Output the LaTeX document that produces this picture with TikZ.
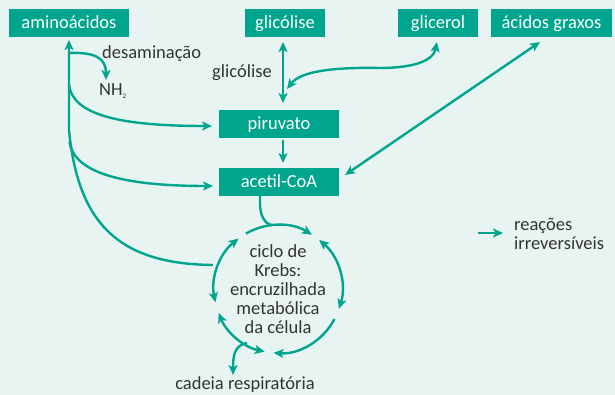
\documentclass[tikz,border=0pt]{standalone}
\usepackage{fontspec}
\setmainfont{Carlito}
\usetikzlibrary{arrows.meta}
\definecolor{bgc}{HTML}{E8F4F2}
\definecolor{gr}{HTML}{00A58E}
\definecolor{txt}{HTML}{333333}
\begin{document}
\begin{tikzpicture}[x=1pt,y=-1pt,
  >={Stealth[length=10pt,width=9pt,inset=2.5pt]},
  box/.style={fill=gr,text=white,inner sep=0pt,minimum height=28pt,
    text height=13pt,text depth=1pt,font=\fontsize{18.5}{20}\selectfont},
  lbl/.style={text=txt,inner sep=0pt,font=\fontsize{18.5}{20}\selectfont},
  con/.style={draw=gr,line width=2.4pt},
 ]
\fill[bgc] (0,0) rectangle (615,395);
\useasboundingbox (0,0) rectangle (615,395);

% boxes
\node[box,minimum width=120pt] (amino) at (69,23) {aminoácidos};
\node[box,minimum width=80pt] (glic) at (285,23) {glicólise};
\node[box,minimum width=80pt] (glicerol) at (438,23) {glicerol};
\node[box,minimum width=121pt] (graxos) at (551.5,23) {ácidos graxos};
\node[box,minimum width=120pt] (piru) at (279,124) {piruvato};
\node[box,minimum width=120pt] (acetil) at (279,182) {acetil-CoA};

% labels
\node[lbl,anchor=base west] (desam) at (102,59) {desaminação};
\node[lbl,anchor=base west] (nh2) at (99,96) {NH\textsubscript{\scriptsize 2}};
\node[lbl,anchor=base west] (glicl) at (212,78) {glicólise};
\node[lbl,align=center,font=\fontsize{18.5}{19}\selectfont] (krebs) at (278,289)
  {ciclo de\\Krebs:\\encruzilhada\\metabólica\\da célula};
\node[lbl,anchor=base] (cadeia) at (245,389) {cadeia respiratória};
\node[lbl,anchor=base west] (reac) at (514,231) {reações};
\node[lbl,anchor=base west] (irrev) at (514,250) {irreversíveis};

% coordinates
\coordinate (K) at (278,289);
\coordinate (aminoIn) at (69,40);
\coordinate (trunkEnd) at (213,265);
\coordinate (nhIn) at (106,80);
\coordinate (piruIn) at (212,126);
\coordinate (acetIn) at (213,186);
\coordinate (glicOut) at (283,42);
\coordinate (piruTop) at (283,103);
\coordinate (glicerolOut) at (437,42);
\coordinate (glicerolIn) at (287,89);
\coordinate (piruBot) at (283,140);
\coordinate (acetTop) at (283,163);
\coordinate (graxOut) at (540,42);
\coordinate (acetRight) at (345,175);
\coordinate (acetBot) at (260,196);
\coordinate (cadeiaIn) at (233,375);
\coordinate (legA) at (478,233);
\coordinate (legB) at (503,233);

% aminoacid trunk and branches
\draw[con,->] (trunkEnd) .. controls (120,264) and (78,225) .. (69,130) -- (aminoIn);
\draw[con,->] (69,53) .. controls (95,52) and (106,58) .. (nhIn);
\draw[con,->] (69,85) .. controls (73,115) and (120,126) .. (piruIn);
\draw[con,->] (69.5,142) .. controls (74,172) and (120,186) .. (acetIn);

% glicolise
\draw[con,<->] (glicOut) -- (piruTop);
\draw[con,<->] (glicerolOut) .. controls (433,62) and (410,68) .. (380,68)
   .. controls (330,67) and (300,72) .. (glicerolIn);
\draw[con,->] (piruBot) -- (acetTop);
\draw[con,<->] (graxOut) -- (acetRight);

% acetil to krebs
\draw[con] (acetBot) -- (260,203) .. controls (260,220) and (268,225) .. ([shift={(-95:64)}]K);

% krebs arcs
\begin{scope}[shift={(K)}]
\draw[con,->] (-120:64) arc[start angle=-120,end angle=-58,radius=64];
\draw[con,<->] (-50:64) arc[start angle=-50,end angle=18,radius=64];
\draw[con,->] (28:64) arc[start angle=28,end angle=94,radius=64];
\draw[con,<->] (102:64) arc[start angle=102,end angle=158,radius=64];
\draw[con,<->] (168:64) arc[start angle=168,end angle=232,radius=64];
\end{scope}
\draw[con,->] (247,343) .. controls (235,345) and (233,355) .. (cadeiaIn);

% legend
\draw[con,->] (legA) -- (legB);
\end{tikzpicture}
\end{document}
